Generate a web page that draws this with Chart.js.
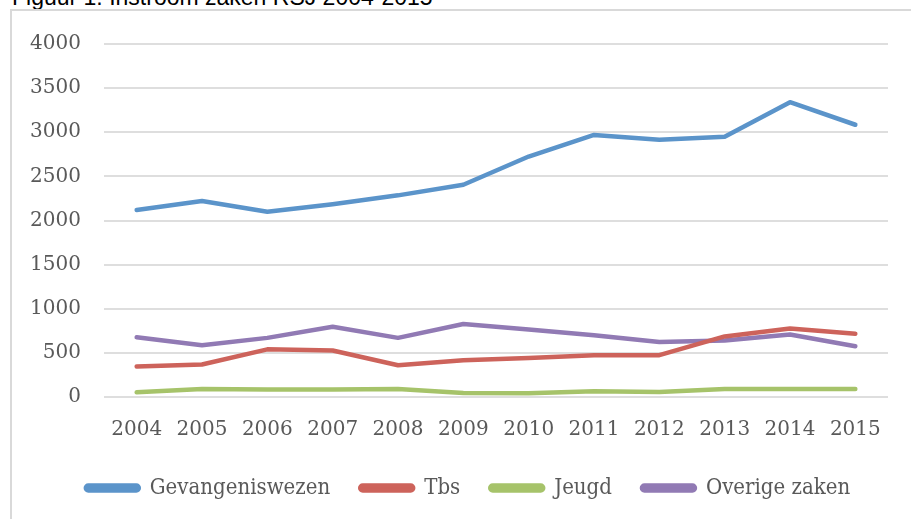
<!DOCTYPE html>
<html>
<head>
<meta charset="utf-8">
<script src="https://cdn.jsdelivr.net/npm/chart.js@4.4.1/dist/chart.umd.min.js"></script>
<style>
  html, body { margin: 0; padding: 0; background: #fff; overflow: hidden; }
  body { width: 911px; height: 519px; position: relative; }
  #caption {
    position: absolute; left: 12px; top: -14px;
    font: 23px "Liberation Sans", Arial, sans-serif; line-height: 23px;
    color: #000; white-space: nowrap;
  }
  #frame {
    position: absolute; left: 10px; top: 9px; width: 1000px; height: 600px;
    border-left: 2px solid #d9d9d9; border-top: 2px solid #d9d9d9;
  }
  #wrap { position: absolute; left: 0; top: 0; width: 911px; height: 519px; }
</style>
</head>
<body>
<div id="caption">Figuur 1: Instroom zaken RSJ 2004-2015</div>
<div id="frame"></div>
<div id="wrap"><canvas id="chart"></canvas></div>
<script>
  // years on the x axis
  const years = ["2004", "2005", "2006", "2007", "2008", "2009", "2010", "2011", "2012", "2013", "2014", "2015"];

  // values
  const gevangeniswezen = [2120, 2220, 2100, 2185, 2285, 2405, 2725, 2970, 2915, 2950, 3340, 3085];
  const tbs = [345, 368, 540, 527, 360, 417, 443, 474, 474, 686, 777, 716];
  const jeugd = [53, 90, 84, 84, 90, 45, 42, 65, 57, 90, 90, 90];
  const overigeZaken = [678, 587, 670, 795, 670, 828, 766, 701, 622, 640, 709, 576];

  const yMax = 4000;
  const yStep = 500;

  const textColor = "#595959";
  const serif = "'DejaVu Serif', 'Liberation Serif', serif";

  function series(label, data, color) {
    return {
      label: label,
      data: data,
      borderColor: color,
      backgroundColor: color,
      borderWidth: 4.5,
      borderCapStyle: "round",
      borderJoinStyle: "round",
      pointRadius: 0,
      tension: 0,
      fill: false
    };
  }

  // legend sits a bit right of centre in the original
  const nudgeLegend = {
    id: "nudgeLegend",
    afterLayout(chart) {
      chart.legend.left += 10;
      chart.legend.right += 10;
    }
  };

  const ctx = document.getElementById("chart").getContext("2d");
  new Chart(ctx, {
    type: "line",
    data: {
      labels: years,
      datasets: [
        series("Gevangeniswezen", gevangeniswezen, "#5b94ca"),
        series("Tbs", tbs, "#cd635b"),
        series("Jeugd", jeugd, "#a6c36a"),
        series("Overige zaken", overigeZaken, "#917ab4")
      ]
    },
    plugins: [nudgeLegend],
    options: {
      responsive: true,
      maintainAspectRatio: false,
      animation: false,
      layout: { padding: { left: 28, right: 23, top: 44, bottom: 10 } },
      plugins: {
        title: { display: false },
        tooltip: { enabled: false },
        legend: {
          position: "bottom",
          labels: {
            color: textColor,
            font: { family: "'DejaVu Serif Condensed', 'Liberation Serif', serif", size: 22 },
            boxWidth: 53,
            boxHeight: 5,
            useBorderRadius: true,
            borderRadius: 2.5,
            padding: 30
          }
        }
      },
      scales: {
        x: {
          offset: true,
          grid: { display: false, drawTicks: false },
          border: { display: false },
          ticks: { color: textColor, font: { family: serif, size: 20 }, padding: 21, maxRotation: 0 },
          // pull the plot closer to the legend
          afterFit: (scale) => { scale.height -= 16; }
        },
        y: {
          min: 0,
          max: yMax,
          grid: { color: "#dedede", lineWidth: 2, drawTicks: false },
          border: { display: false },
          ticks: {
            stepSize: yStep,
            color: textColor,
            font: { family: serif, size: 20 },
            padding: 23,
            callback: (v) => String(v)
          },
          afterFit: (scale) => { scale.width = 76; }
        }
      }
    }
  });
</script>
</body>
</html>
